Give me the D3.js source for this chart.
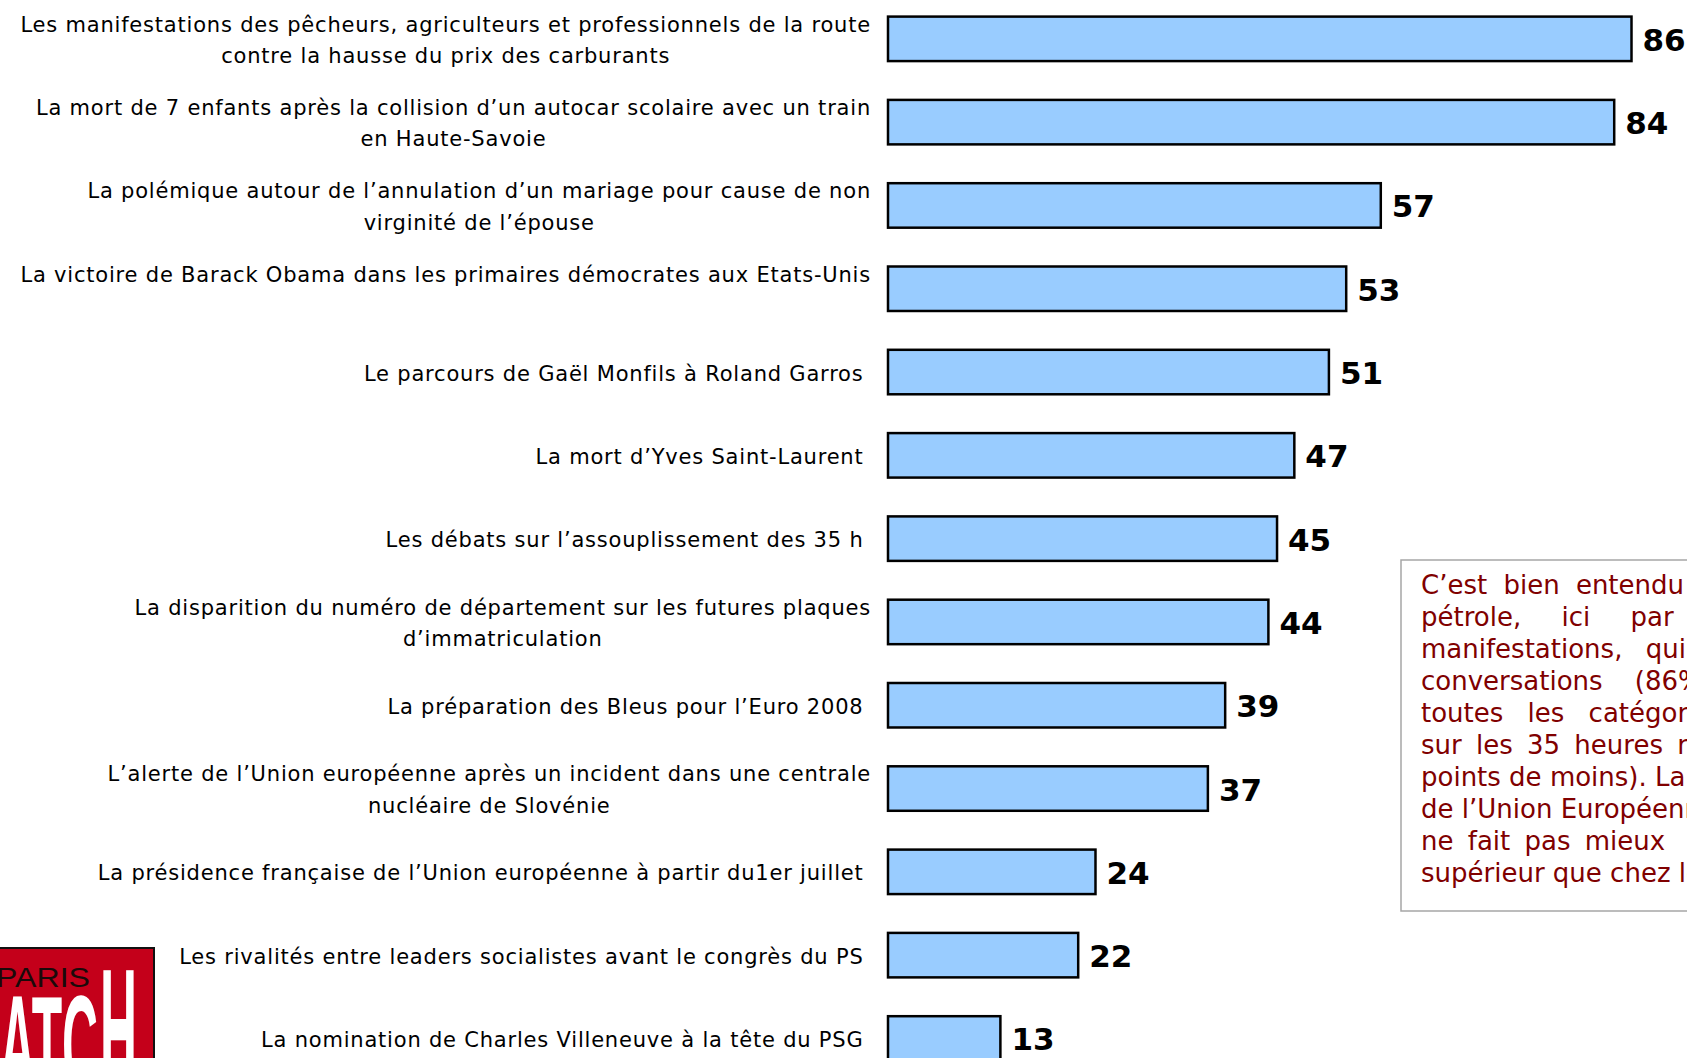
<!DOCTYPE html>
<html>
<head>
<meta charset="utf-8">
<script src="https://cdn.jsdelivr.net/npm/d3@7"></script>
<style>
  body { margin: 0; background: #fff; overflow: hidden; }
</style>
</head>
<body>
<script>
// categories, one array of lines per bar (as broken in the slide)
const categories = [
  ["Les manifestations des pêcheurs, agriculteurs et professionnels de la route", "contre la hausse du prix des carburants"],
  ["La mort de 7 enfants après la collision d’un autocar scolaire avec un train", "en Haute-Savoie"],
  ["La polémique autour de l’annulation d’un mariage pour cause de non", "virginité de l’épouse"],
  ["La victoire de Barack Obama dans les primaires démocrates aux Etats-Unis", ""],
  ["Le parcours de Gaël Monfils à Roland Garros\u00a0"],
  ["La mort d’Yves Saint-Laurent\u00a0"],
  ["Les débats sur l’assouplissement des 35 h\u00a0"],
  ["La disparition du numéro de département sur les futures plaques", "d’immatriculation"],
  ["La préparation des Bleus pour l’Euro 2008\u00a0"],
  ["L’alerte de l’Union européenne après un incident dans une centrale", "nucléaire de Slovénie"],
  ["La présidence française de l’Union européenne à partir du1er juillet\u00a0"],
  ["Les rivalités entre leaders socialistes avant le congrès du PS\u00a0"],
  ["La nomination de Charles Villeneuve à la tête du PSG\u00a0"]
]
const values = [86, 84, 57, 53, 51, 47, 45, 44, 39, 37, 24, 22, 13]

// comment box (cut by the slide edge)
const noteLines = [
  "C’est bien entendu",
  "pétrole, ici par",
  "manifestations, qui",
  "conversations (86%",
  "toutes les catégories",
  "sur les 35 heures r",
  "points de moins). La",
  "de l’Union Européenne",
  "ne fait pas mieux",
  "supérieur que chez les"
]
const noteWordSpacing = [8, 32, 15, 24, 16, 6, 0, 0, 6, 0]

const width = 1687, height = 1058
const svg = d3.select("body").append("svg")
  .attr("width", width)
  .attr("height", height)
  .style("display", "block")

// scales
const bar_x = d3.scaleLinear()
  .domain([0, 86])
  .range([888, 1631.5])

const step = 83.3, bar_top = 16.6, pad = 0.466
const bar_y = d3.scaleBand()
  .domain(d3.range(values.length))
  .range([bar_top, bar_top + step * (values.length - pad)])
  .paddingInner(pad)
  .paddingOuter(0)
const bw = bar_y.bandwidth()

// bars
svg.append("g")
  .selectAll("rect").data(values)
  .enter().append("rect")
    .attr("x", bar_x(0))
    .attr("y", (d, i) => bar_y(i))
    .attr("width", d => bar_x(d) - bar_x(0))
    .attr("height", bw)
    .attr("fill", "#99ccff")
    .attr("stroke", "#000")
    .attr("stroke-width", 2.5)

// value labels
svg.append("g")
  .selectAll("text").data(values)
  .enter().append("text")
    .text(d => d)
    .attr("x", d => bar_x(d) + 11)
    .attr("y", (d, i) => bar_y(i) + bw / 2 + 12)
    .attr("font-family", "DejaVu Sans, Verdana, sans-serif")
    .attr("font-weight", "bold")
    .attr("font-size", 31)
    .attr("fill", "#000")

// category labels: centred block, right edge at label_right
const label_right = 871, line_h = 31.2
const labels = svg.append("g")
  .attr("font-family", "DejaVu Sans, Verdana, sans-serif")
  .attr("font-size", 21)
  .attr("letter-spacing", 0.8)
  .attr("fill", "#000")

categories.forEach((lines, i) => {
  const cy = bar_y(i) + bw / 2
  const t = labels.append("text").attr("text-anchor", "middle")
  lines.forEach((ln, j) => {
    t.append("tspan")
      .attr("x", 0)
      .attr("y", cy + 8.5 + (j - (lines.length - 1) / 2) * line_h)
      .text(ln)
  })
  let maxW = 0
  t.selectAll("tspan").each(function(){ maxW = Math.max(maxW, this.getComputedTextLength()) })
  t.selectAll("tspan").attr("x", label_right - maxW / 2)
})

// comment box on the right
svg.append("rect")
  .attr("x", 1401)
  .attr("y", 560)
  .attr("width", 400)
  .attr("height", 351)
  .attr("fill", "none")
  .attr("stroke", "#a6a6a6")
  .attr("stroke-width", 1.5)

svg.append("g")
  .attr("font-family", "DejaVu Sans, Verdana, sans-serif")
  .attr("font-size", 26)
  .attr("fill", "#800000")
  .selectAll("text").data(noteLines)
  .enter().append("text")
    .attr("x", 1421)
    .attr("y", (d, i) => 594 + i * 32)
    .attr("word-spacing", (d, i) => noteWordSpacing[i])
    .text(d => d)

// Paris Match logo, cut at the bottom-left corner
const logo = svg.append("g")
svg.append("defs").append("clipPath").attr("id", "logoclip")
  .append("rect").attr("x", -2).attr("y", 948).attr("width", 156).attr("height", 120)
logo.append("rect")
  .attr("x", -2).attr("y", 948).attr("width", 156).attr("height", 120)
  .attr("fill", "#c4001a")
  .attr("stroke", "#111")
  .attr("stroke-width", 2)
const logoText = logo.append("g").attr("clip-path", "url(#logoclip)")
  .attr("font-family", "Liberation Sans, Arial, sans-serif")
logoText.append("text")
  .attr("x", -4).attr("y", 987)
  .attr("font-size", 27)
  .attr("fill", "#1a0a0a")
  .attr("textLength", 94)
  .attr("lengthAdjust", "spacingAndGlyphs")
  .text("PARIS")
logoText.append("text")
  .attr("x", -42).attr("y", 1093)
  .attr("font-size", 140)
  .attr("font-weight", "bold")
  .attr("fill", "#fff")
  .attr("textLength", 140)
  .attr("lengthAdjust", "spacingAndGlyphs")
  .text("MATC")
logoText.append("text")
  .attr("x", 100).attr("y", 1093)
  .attr("font-size", 179)
  .attr("font-weight", "bold")
  .attr("fill", "#fff")
  .attr("textLength", 37)
  .attr("lengthAdjust", "spacingAndGlyphs")
  .text("H")
</script>
</body>
</html>
